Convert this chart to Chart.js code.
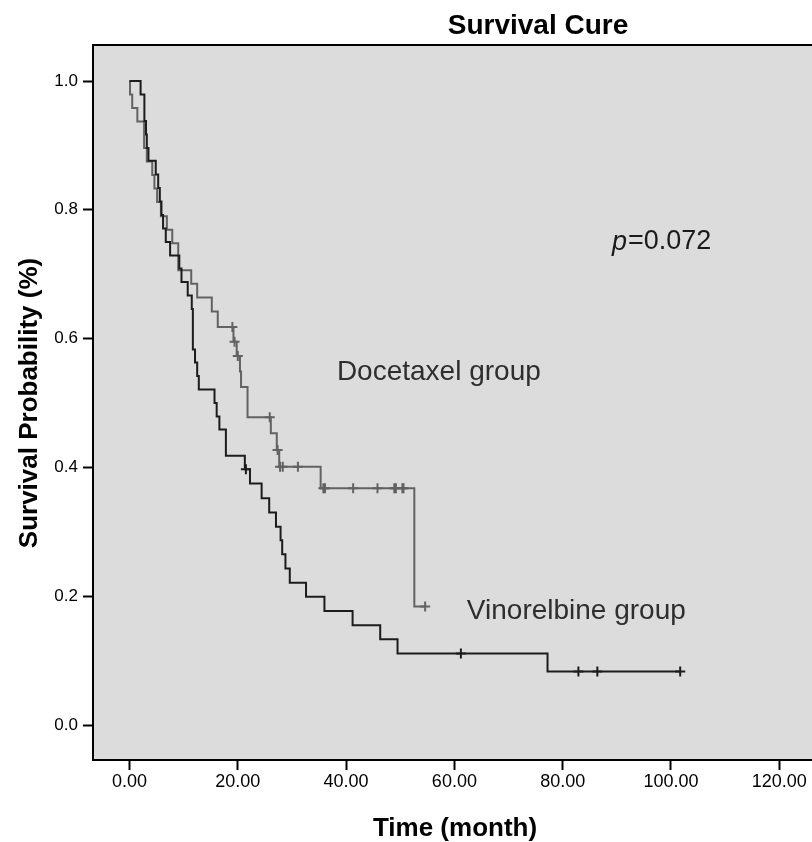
<!DOCTYPE html>
<html>
<head>
<meta charset="utf-8">
<script src="https://cdn.jsdelivr.net/npm/chart.js@4.4.1/dist/chart.umd.min.js"></script>
<style>
  html, body { margin: 0; padding: 0; background: #ffffff; overflow: hidden; }
  #wrap { width: 812px; height: 842px; position: relative; overflow: hidden; }
  #c { position: absolute; left: 0; top: 0; }
</style>
</head>
<body>
<div id="wrap"><canvas id="c" width="832" height="842"></canvas></div>
<script>
// ---- Data ----
const xTickValues = [0, 20, 40, 60, 80, 100, 120];
const yTickValues = [0, 0.2, 0.4, 0.6, 0.8, 1.0];

// Vinorelbine group: time of each step and survival after the step
const vinoTimes = [0, 2.05, 2.75, 3.05, 3.2, 3.5, 4.85, 5.3, 5.6, 5.9, 6.2, 6.7, 7.5, 9.2, 9.6, 10.75, 11.5, 11.7, 12.1, 12.5, 12.8, 15.7, 16.1, 16.6, 17.8, 21.3, 22.25, 24.4, 25.8, 27.05, 27.9, 28.2, 28.8, 29.6, 32.6, 36.0, 41.2, 46.3, 49.5, 77.2, 101.7];
const vinoSurv  = [1.0, 0.979, 0.938, 0.917, 0.896, 0.876, 0.855, 0.834, 0.813, 0.792, 0.771, 0.750, 0.729, 0.709, 0.688, 0.667, 0.646, 0.583, 0.563, 0.542, 0.521, 0.500, 0.479, 0.459, 0.418, 0.397, 0.375, 0.352, 0.330, 0.308, 0.287, 0.265, 0.243, 0.221, 0.199, 0.177, 0.155, 0.133, 0.111, 0.083, 0.083];
const vinoCensor = [21.5, 61.2, 82.9, 86.4, 101.7];

// Docetaxel group
const doceTimes = [0, 0.1, 0.5, 1.45, 2.7, 3.2, 4.2, 4.6, 5.1, 5.8, 6.9, 7.9, 9.0, 11.4, 12.5, 15.2, 16.3, 19.2, 19.8, 20.4, 20.6, 21.8, 26.1, 27.2, 27.65, 35.3, 52.6, 54.6];
const doceSurv  = [1.0, 0.979, 0.958, 0.937, 0.896, 0.875, 0.854, 0.833, 0.812, 0.790, 0.769, 0.748, 0.706, 0.685, 0.664, 0.642, 0.618, 0.595, 0.573, 0.549, 0.525, 0.478, 0.453, 0.427, 0.401, 0.3675, 0.184, 0.184];
const doceCensor = [19.0, 19.4, 20.0, 25.9, 27.35, 27.8, 28.3, 31.1, 35.8, 36.1, 41.3, 45.8, 48.9, 49.2, 50.4, 50.6, 54.6];

const pValueText = "=0.072";

// ---- helpers ----
function stepPoints(times, surv) {
  return times.map((t, i) => ({ x: t, y: surv[i] }));
}
function survAt(times, surv, t) {
  let s = surv[0];
  for (let i = 0; i < times.length; i++) { if (times[i] <= t) s = surv[i]; }
  return s;
}
function censorPoints(times, surv, cens) {
  return cens.map(t => ({ x: t, y: survAt(times, surv, t) }));
}

const FONT = "'Liberation Sans', Arial, Helvetica, sans-serif";
const BLACK_LINE = '#1c1c1c';
const GRAY_LINE = '#626262';

const decorPlugin = {
  id: 'decor',
  beforeDraw(chart) {
    const { ctx, chartArea: a } = chart;
    ctx.save();
    ctx.fillStyle = '#dcdcdc';
    ctx.fillRect(a.left, a.top, a.right - a.left, a.bottom - a.top);
    ctx.restore();
  },
  afterDraw(chart) {
    const { ctx, chartArea: a, scales } = chart;
    const xs = scales.x, ys = scales.y;
    ctx.save();
    // top border
    ctx.strokeStyle = '#000';
    ctx.lineWidth = 2;
    ctx.beginPath();
    ctx.moveTo(a.left - 1, a.top);
    ctx.lineTo(a.right + 20, a.top);
    ctx.stroke();

    // title
    ctx.fillStyle = '#000';
    ctx.textBaseline = 'middle';
    ctx.textAlign = 'center';
    ctx.font = "bold 28px " + FONT;
    ctx.fillText('Survival Cure', 538, 26);

    // x axis title
    ctx.font = "bold 26px " + FONT;
    ctx.fillText('Time (month)', 455, 829);

    // y axis title
    ctx.save();
    ctx.translate(30, 403);
    ctx.rotate(-Math.PI / 2);
    ctx.fillText('Survival Probability (%)', 0, 0);
    ctx.restore();

    // group labels
    ctx.fillStyle = '#2e2e2e';
    ctx.textAlign = 'left';
    ctx.font = "28px " + FONT;
    ctx.fillText('Docetaxel group', xs.getPixelForValue(38.3), ys.getPixelForValue(0.547));
    ctx.fillText('Vinorelbine group', xs.getPixelForValue(62.3), ys.getPixelForValue(0.177));

    // p value
    const px = xs.getPixelForValue(89.1), py = ys.getPixelForValue(0.75);
    ctx.fillStyle = '#1a1a1a';
    ctx.font = "italic 27px " + FONT;
    ctx.fillText('p', px, py);
    const pw = ctx.measureText('p').width;
    ctx.font = "27px " + FONT;
    ctx.fillText(pValueText, px + pw + 1, py);
    ctx.restore();
  }
};

new Chart(document.getElementById('c'), {
  type: 'line',
  data: {
    datasets: [
      {
        label: 'Vinorelbine group',
        data: stepPoints(vinoTimes, vinoSurv),
        stepped: true,
        borderColor: BLACK_LINE,
        borderWidth: 2,
        pointRadius: 0,
        fill: false
      },
      {
        label: 'Vinorelbine censored',
        type: 'scatter',
        data: censorPoints(vinoTimes, vinoSurv, vinoCensor),
        pointStyle: 'cross',
        pointRadius: 5,
        borderColor: BLACK_LINE,
        borderWidth: 2,
        showLine: false
      },
      {
        label: 'Docetaxel group',
        data: stepPoints(doceTimes, doceSurv),
        stepped: true,
        borderColor: GRAY_LINE,
        borderWidth: 2,
        pointRadius: 0,
        fill: false
      },
      {
        label: 'Docetaxel censored',
        type: 'scatter',
        data: censorPoints(doceTimes, doceSurv, doceCensor),
        pointStyle: 'cross',
        pointRadius: 5,
        borderColor: GRAY_LINE,
        borderWidth: 2,
        showLine: false
      }
    ]
  },
  options: {
    responsive: false,
    animation: false,
    events: [],
    layout: { padding: { top: 45, right: 20, left: 0, bottom: 0 } },
    plugins: { legend: { display: false }, tooltip: { enabled: false }, title: { display: false } },
    scales: {
      x: {
        type: 'linear',
        min: -6.74,
        max: 126.04,
        afterBuildTicks(scale) { scale.ticks = xTickValues.map(v => ({ value: v })); },
        afterFit(scale) { scale.height = 82; },
        grid: { display: true, drawOnChartArea: false, drawTicks: true, tickLength: 10, tickWidth: 2, color: '#000' },
        border: { display: true, color: '#000', width: 2 },
        ticks: {
          color: '#000',
          padding: 1,
          maxRotation: 0,
          autoSkip: false,
          font: { family: FONT, size: 18 },
          callback: v => Number(v).toFixed(2)
        }
      },
      y: {
        type: 'linear',
        min: -0.0543,
        max: 1.0559,
        afterBuildTicks(scale) { scale.ticks = yTickValues.map(v => ({ value: v })); },
        afterFit(scale) { scale.width = 93; },
        grid: { display: true, drawOnChartArea: false, drawTicks: true, tickLength: 10, tickWidth: 2, color: '#000' },
        border: { display: true, color: '#000', width: 2 },
        ticks: {
          color: '#000',
          padding: 5,
          autoSkip: false,
          font: { family: FONT, size: 17 },
          callback: v => Number(v).toFixed(1)
        }
      }
    }
  },
  plugins: [decorPlugin]
});
</script>
</body>
</html>
